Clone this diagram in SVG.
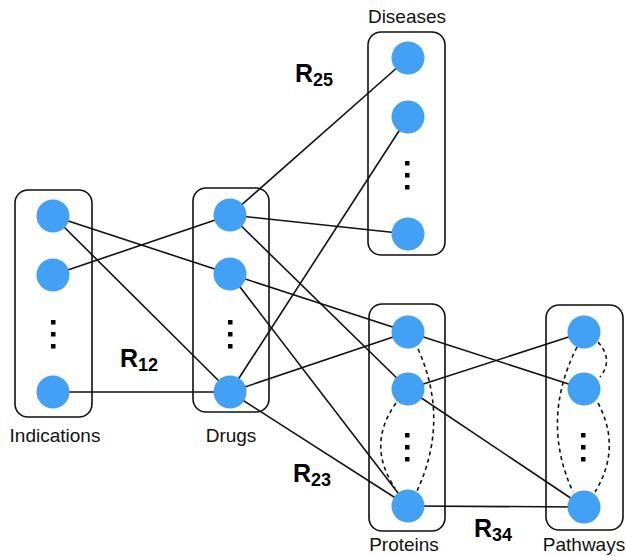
<svg xmlns="http://www.w3.org/2000/svg" width="627" height="556" viewBox="0 0 627 556">
<style>
.box{fill:none;stroke:#111;stroke-width:1.6}
.node{fill:#42a0f5}
.edge{stroke:#111;stroke-width:1.6;fill:none}
.dash{stroke:#111;stroke-width:1.6;fill:none;stroke-dasharray:4 3.5}
.dot{fill:#000}
.lbl{font-family:"Liberation Sans",Arial,sans-serif;font-size:19px;fill:#111;text-anchor:middle}
.r{font-family:"Liberation Sans",Arial,sans-serif;font-weight:bold;font-size:25px;fill:#000}
.sub{font-size:18px}
</style>
<defs>
<g id="dots"><rect x="-2" y="-2" width="4.5" height="4.5"/><rect x="-2" y="10" width="4.5" height="4.5"/><rect x="-2" y="22" width="4.5" height="4.5"/></g>
</defs>
<g id="boxes">
<rect class="box" x="15" y="190" width="77" height="227" rx="13"/>
<rect class="box" x="193" y="188" width="76" height="224" rx="13"/>
<rect class="box" x="368" y="32" width="77" height="223" rx="13"/>
<rect class="box" x="369" y="304" width="76" height="227" rx="13"/>
<rect class="box" x="546" y="305" width="77" height="225" rx="13"/>
</g>
<g id="connectors">
<line class="edge" x1="53" y1="216" x2="230" y2="274"/>
<line class="edge" x1="53" y1="216" x2="230" y2="392"/>
<line class="edge" x1="53" y1="275" x2="230" y2="215"/>
<line class="edge" x1="53" y1="392" x2="230" y2="392"/>
<line class="edge" x1="230" y1="215" x2="408" y2="58"/>
<line class="edge" x1="230" y1="215" x2="408" y2="234"/>
<line class="edge" x1="230" y1="215" x2="408" y2="389"/>
<line class="edge" x1="230" y1="274" x2="408" y2="332"/>
<line class="edge" x1="230" y1="274" x2="408" y2="506"/>
<line class="edge" x1="230" y1="392" x2="408" y2="117"/>
<line class="edge" x1="230" y1="392" x2="408" y2="332"/>
<line class="edge" x1="230" y1="392" x2="408" y2="506"/>
<line class="edge" x1="408" y1="332" x2="584" y2="389"/>
<line class="edge" x1="408" y1="389" x2="584" y2="332"/>
<line class="edge" x1="408" y1="389" x2="584" y2="507"/>
<line class="edge" x1="408" y1="506" x2="584" y2="507"/>
<path class="dash" d="M418,349 Q450,420 417,491"/>
<path class="dash" d="M396,403 Q366,445 395,488"/>
<path class="dash" d="M598,342 Q614,360 600,377"/>
<path class="dash" d="M577,347 Q540,420 573,492"/>
<path class="dash" d="M598,403 Q622,448 595,492"/>
</g>
<g id="indications">
<circle class="node" cx="53" cy="216" r="16.5"/>
<circle class="node" cx="53" cy="275" r="16.5"/>
<use href="#dots" x="53" y="322"/>
<circle class="node" cx="53" cy="392" r="16.5"/>
<text class="lbl" x="55" y="442">Indications</text>
</g>
<g id="drugs">
<circle class="node" cx="230" cy="215" r="16.5"/>
<circle class="node" cx="230" cy="274" r="16.5"/>
<use href="#dots" x="230" y="322"/>
<circle class="node" cx="230" cy="392" r="16.5"/>
<text class="lbl" x="231" y="442">Drugs</text>
</g>
<g id="diseases">
<circle class="node" cx="408" cy="58" r="16.5"/>
<circle class="node" cx="408" cy="117" r="16.5"/>
<use href="#dots" x="407" y="163"/>
<circle class="node" cx="408" cy="234" r="16.5"/>
<text class="lbl" x="407" y="23">Diseases</text>
</g>
<g id="proteins">
<circle class="node" cx="408" cy="332" r="16.5"/>
<circle class="node" cx="408" cy="389" r="16.5"/>
<use href="#dots" x="407" y="435"/>
<circle class="node" cx="408" cy="506" r="16.5"/>
<text class="lbl" x="404" y="551">Proteins</text>
</g>
<g id="pathways">
<circle class="node" cx="584" cy="332" r="16.5"/>
<circle class="node" cx="584" cy="389" r="16.5"/>
<use href="#dots" x="583" y="435"/>
<circle class="node" cx="584" cy="507" r="16.5"/>
<text class="lbl" x="584" y="551">Pathways</text>
</g>
<g id="relation-labels">
<text class="r" x="295" y="82">R<tspan class="sub" dy="4">25</tspan></text>
<text class="r" x="120" y="367">R<tspan class="sub" dy="4">12</tspan></text>
<text class="r" x="293" y="482">R<tspan class="sub" dy="4">23</tspan></text>
<text class="r" x="474" y="537">R<tspan class="sub" dy="4">34</tspan></text>
</g>
</svg>
